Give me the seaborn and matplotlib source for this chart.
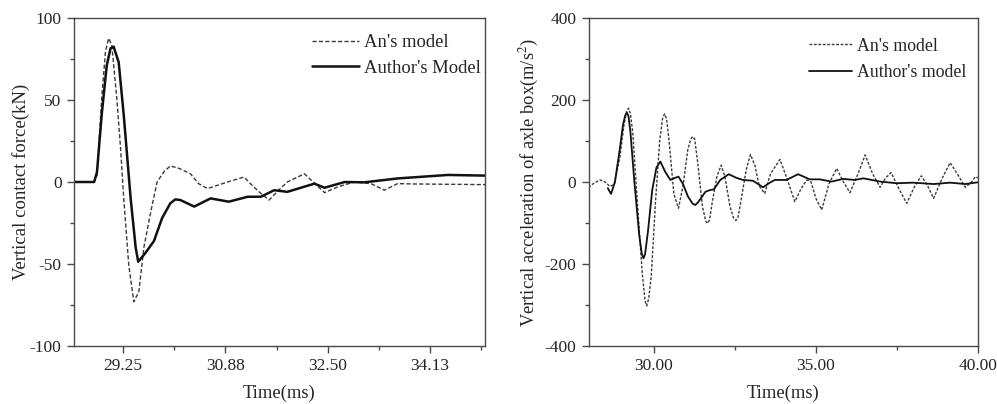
import numpy as np
import pandas as pd
import matplotlib
matplotlib.use("Agg")
import matplotlib.pyplot as plt
import seaborn as sns
from matplotlib.ticker import MultipleLocator, FixedLocator

# ---------------- data ----------------
# Left panel: vertical contact force (kN)
left_author_t = [28.47, 28.79, 28.835, 28.91, 28.99, 29.05, 29.10, 29.18, 29.26, 29.37, 29.45, 29.49,
                 29.60, 29.74, 29.87, 30.00, 30.08, 30.16, 30.38, 30.64, 30.93, 31.23, 31.44, 31.65,
                 31.86, 32.29, 32.45, 32.77, 33.08, 33.62, 34.41, 35.00]
left_author_f = [0, 0, 6, 41, 71, 81.5, 82.5, 73, 41, -10, -40, -48.6,
                 -43.5, -36, -22, -13, -10.6, -11, -15, -10, -12, -9, -9, -5,
                 -6, -1, -3.5, 0, -0.2, 2.2, 4.3, 3.9]

left_an_t = [28.47, 28.79, 28.835, 28.91, 28.97, 29.02, 29.07, 29.15, 29.21, 29.26, 29.34, 29.42,
             29.50, 29.58, 29.68, 29.79, 29.90, 30.00, 30.14, 30.32, 30.45, 30.59, 30.91, 31.17,
             31.30, 31.44, 31.57, 31.72, 31.86, 32.13, 32.30, 32.45, 32.66, 32.92, 33.19, 33.40,
             33.61, 33.88, 35.00]
left_an_f = [0, 0, 4, 51, 79.5, 87.6, 83.5, 51, 20.5, -10, -50.6, -73,
             -67, -40, -20, 0, 6.3, 9.8, 8.3, 5, -1, -4, 0, 3,
             -2, -7, -11, -5, 0, 5, -1, -6.5, -3, 0, -1, -5,
             -1, -1.2, -1.6]

# Right panel: vertical acceleration of axle box (m/s^2)
right_an_t = [27.98, 28.15, 28.34, 28.50, 28.65, 28.78, 28.95, 29.08, 29.16, 29.22, 29.28, 29.35, 29.50, 29.65,
              29.73, 29.78, 29.84, 29.92, 30.05, 30.18, 30.27, 30.33, 30.39, 30.47, 30.62, 30.76, 30.90, 31.05,
              31.14, 31.20, 31.26, 31.35, 31.50, 31.60, 31.66, 31.72, 31.80, 31.95, 32.08, 32.20, 32.35, 32.46,
              32.53, 32.60, 32.70, 32.85, 32.98, 33.12, 33.25, 33.42, 33.60, 33.89, 34.10, 34.35, 34.55, 34.72,
              34.85, 35.00, 35.18, 35.40, 35.64, 35.85, 36.05, 36.30, 36.52, 36.75, 36.98, 37.15, 37.32, 37.55,
              37.80, 38.05, 38.25, 38.45, 38.63, 38.90, 39.14, 39.40, 39.61, 39.80, 39.92, 40.00]
right_an_a = [-13, -3, 5, 0, -11, -5, 60, 140, 172, 180, 165, 120, -60, -230,
              -290, -302, -285, -230, -50, 100, 155, 166, 155, 100, -30, -64, -10, 80,
              105, 111, 105, 50, -60, -95, -101, -92, -50, 15, 41, 10, -60, -88,
              -94, -85, -40, 30, 67, 40, -10, -28, 20, 55, 10, -48, -15, 5,
              0, -40, -68, -5, 33, 0, -26, 20, 66, 20, -13, 10, 23, -15,
              -52, -10, 15, -10, -40, 10, 47, 15, -13, 0, 13, 10]

right_author_t = [28.58, 28.68, 28.80, 28.95, 29.05, 29.12, 29.17, 29.22, 29.28, 29.40, 29.55, 29.63, 29.68,
                  29.73, 29.82, 29.95, 30.08, 30.20, 30.35, 30.51, 30.65, 30.76, 30.90, 31.05, 31.20, 31.28,
                  31.36, 31.45, 31.59, 31.72, 31.85, 32.05, 32.31, 32.55, 32.75, 33.06, 33.37, 33.55, 33.73,
                  34.09, 34.45, 34.81, 35.12, 35.48, 35.84, 36.20, 36.46, 36.98, 37.49, 38.00, 38.63, 39.14,
                  39.61, 39.97, 40.00]
right_author_a = [-15, -29, 0, 80, 140, 163, 169, 160, 120, 0, -130, -176, -186,
                  -176, -120, -20, 35, 50, 25, 5, 10, 13, -5, -35, -53, -56,
                  -50, -40, -24, -20, -18, 5, 19, 10, 5, 3, -13, -3, 5,
                  5, 19, 6.5, 6.5, 1, 7.5, 5, 9, 1, -3, -1.6, -5, -1.6,
                  -5, -1, -1]

left_xticks = [29.25, 30.875, 32.5, 34.125]
left_xticklabels = ["29.25", "30.88", "32.50", "34.13"]
left_yticks = [-100, -50, 0, 50, 100]
left_yticklabels = ["-100", "-50", "0", "50", "100"]
right_xticks = [30, 35, 40]
right_xticklabels = ["30.00", "35.00", "40.00"]
right_yticks = [-400, -200, 0, 200, 400]
right_yticklabels = ["-400", "-200", "0", "200", "400"]

# ---------------- style ----------------
sns.set_style("ticks")
plt.rcParams['font.family'] = ['Liberation Serif', 'DejaVu Serif']
plt.rcParams['mathtext.fontset'] = 'stix'
SPINE = '#4a4a4a'

fig = plt.figure(figsize=(9.97, 4.04), dpi=100)
axL = fig.add_axes([74/997, 58/404, 411/997, 328/404])
axR = fig.add_axes([589/997, 58/404, 389/997, 328/404])

dfL = pd.concat([
    pd.DataFrame({"t": left_an_t, "v": left_an_f, "model": "An's model"}),
    pd.DataFrame({"t": left_author_t, "v": left_author_f, "model": "Author's Model"}),
])
dfR = pd.concat([
    pd.DataFrame({"t": right_an_t, "v": right_an_a, "model": "An's model"}),
    pd.DataFrame({"t": right_author_t, "v": right_author_a, "model": "Author's model"}),
])

sns.lineplot(data=dfL[dfL.model == "An's model"], x="t", y="v", ax=axL, color='#3a3a3a',
             lw=1.0, linestyle=(0, (3, 1.6)), label="An's model", sort=False, estimator=None)
sns.lineplot(data=dfL[dfL.model == "Author's Model"], x="t", y="v", ax=axL, color='#111111',
             lw=1.8, label="Author's Model", sort=False, estimator=None)

sns.lineplot(data=dfR[dfR.model == "An's model"], x="t", y="v", ax=axR, color='#3a3a3a',
             lw=1.0, linestyle=(0, (2, 1.2)), label="An's model", sort=False, estimator=None)
sns.lineplot(data=dfR[dfR.model == "Author's model"], x="t", y="v", ax=axR, color='#111111',
             lw=1.3, label="Author's model", sort=False, estimator=None)

for ax in (axL, axR):
    for s in ax.spines.values():
        s.set_visible(True)
        s.set_color(SPINE)
        s.set_linewidth(1.0)
    ax.tick_params(which='major', direction='out', length=5, width=1.0, color=SPINE,
                   labelsize=12.5, pad=4, top=False, right=False)
    ax.tick_params(which='minor', direction='out', length=3, width=1.0, color=SPINE,
                   top=False, right=False)
    ax.set_xlabel("Time(ms)", fontsize=13.4, labelpad=7)

axL.set_xlim(28.47, 35.0)
axL.set_ylim(-100, 100)
axL.set_xticks(left_xticks, left_xticklabels)
axL.set_yticks(left_yticks, left_yticklabels)
axL.xaxis.set_minor_locator(FixedLocator([28.4375, 30.0625, 31.6875, 33.3125, 34.9375]))
axL.yaxis.set_minor_locator(MultipleLocator(25))
axL.set_ylabel("Vertical contact force(kN)", fontsize=13.5, labelpad=0)

axR.set_xlim(28.0, 40.0)
axR.set_ylim(-400, 400)
axR.set_xticks(right_xticks, right_xticklabels)
axR.set_yticks(right_yticks, right_yticklabels)
axR.xaxis.set_minor_locator(MultipleLocator(2.5))
axR.yaxis.set_minor_locator(MultipleLocator(100))
axR.set_ylabel("Vertical acceleration of axle box(m/s$^2$)", fontsize=13.3, labelpad=3)

axL.legend(loc='upper left', bbox_to_anchor=(0.58, 0.95), frameon=False, fontsize=13.4,
           handlelength=2.5, handletextpad=0.3, labelspacing=0.45, borderpad=0, borderaxespad=0)
axR.legend(loc='upper left', bbox_to_anchor=(0.566, 0.94), frameon=False, fontsize=12.8,
           handlelength=2.4, handletextpad=0.3, labelspacing=0.55, borderpad=0, borderaxespad=0)

fig.savefig("out.png", dpi=100)
